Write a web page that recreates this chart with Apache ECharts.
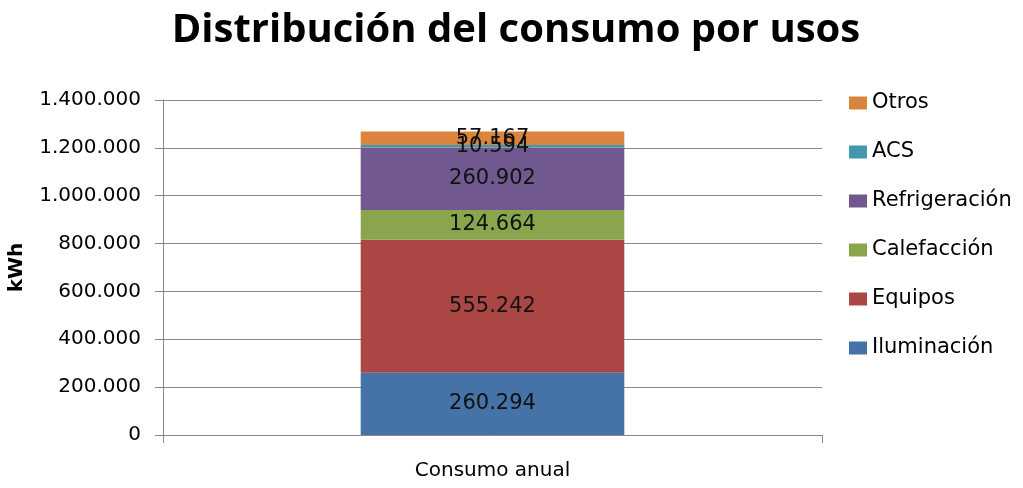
<!DOCTYPE html>
<html>
<head>
<meta charset="utf-8">
<script src="https://cdn.jsdelivr.net/npm/echarts@6/dist/echarts.min.js"></script>
<style>
  html, body { margin: 0; padding: 0; background: #fff; }
  #chart { width: 1023px; height: 488px; }
</style>
</head>
<body>
<div id="chart"></div>
<script>
const categories = ["Consumo anual"];
const seriesNames = ["Iluminación", "Equipos", "Calefacción", "Refrigeración", "ACS", "Otros"];
const seriesColors = ["#4572A7", "#AA4643", "#89A54E", "#71588F", "#4198AF", "#DB843D"];
const iluminacion = [260294];
const equipos = [555242];
const calefaccion = [124664];
const refrigeracion = [260902];
const acs = [10594];
const otros = [57167];
const seriesValues = [iluminacion, equipos, calefaccion, refrigeracion, acs, otros];

const font = "DejaVu Sans";

// formato con punto de miles
function fmt(v) {
  return String(Math.round(v)).replace(/\B(?=(\d{3})+(?!\d))/g, ".");
}

const chart = echarts.init(document.getElementById("chart"));

chart.setOption({
  animation: false,
  title: {
    text: "Distribución del consumo por usos",
    left: 511,
    textAlign: "center",
    top: 6,
    textStyle: { fontFamily: "Open Sans", fontSize: 40, fontWeight: "bold", color: "#000" }
  },
  legend: {
    data: seriesNames.slice().reverse(),
    orient: "vertical",
    left: 844,
    top: 87,
    itemWidth: 18,
    itemHeight: 13,
    itemGap: 27,
    icon: "rect",
    textStyle: { fontFamily: font, fontSize: 21, lineHeight: 22, color: "#000" }
  },
  grid: {
    left: 163,
    right: 201,
    top: 100,
    bottom: 53,
    outerBoundsMode: "none"
  },
  xAxis: {
    type: "category",
    data: categories,
    axisLine: { lineStyle: { color: "#888" } },
    axisTick: { show: true, length: 8, lineStyle: { color: "#888" } },
    axisLabel: { fontFamily: font, fontSize: 20, color: "#000", margin: 26 }
  },
  yAxis: {
    type: "value",
    min: 0,
    max: 1400000,
    interval: 200000,
    name: "kWh",
    nameLocation: "middle",
    nameGap: 136,
    nameRotate: 90,
    nameMoveOverlap: false,
    nameTextStyle: { fontFamily: font, fontSize: 20, fontWeight: "bold", color: "#000" },
    axisLine: { show: true, lineStyle: { color: "#888" } },
    axisTick: { show: true, length: 8, inside: false, lineStyle: { color: "#888" } },
    splitLine: { lineStyle: { color: "#888" } },
    axisLabel: {
      fontFamily: font, fontSize: 20, color: "#000", margin: 22,
      formatter: fmt
    }
  },
  series: seriesNames.map((name, i) => ({
    name: name,
    type: "bar",
    stack: "total",
    barWidth: "40%",
    color: seriesColors[i],
    data: seriesValues[i],
    label: {
      show: true,
      position: "inside",
      fontFamily: font,
      fontSize: 21,
      color: "#111",
      formatter: p => fmt(p.value)
    }
  }))
});
</script>
</body>
</html>
